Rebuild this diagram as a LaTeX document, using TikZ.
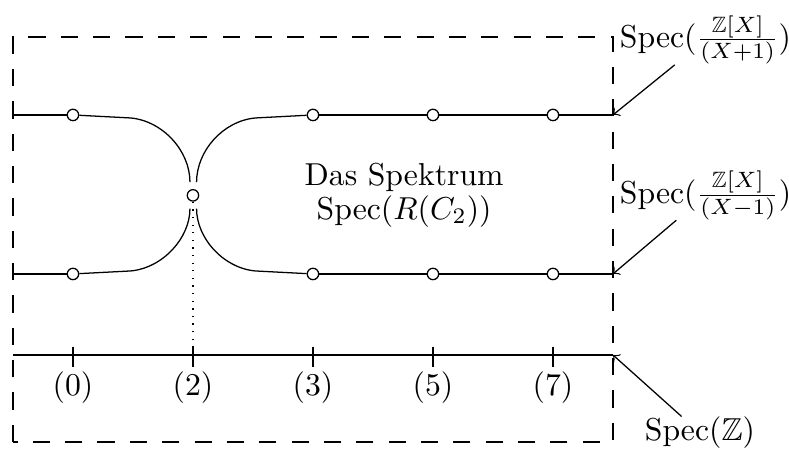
\documentclass[tikz,border=0pt]{standalone}
\usepackage{amsmath,amssymb}
\usetikzlibrary{positioning}
\tikzset{
	pkt/.style={circle,draw,fill=white,inner sep=0pt,minimum size=3.6pt},
	rahmen/.style={dash pattern=on 5.4pt off 4.8pt},
	etikett/.style={inner xsep=2pt,inner ysep=0pt}
}

\begin{document}
\begin{tikzpicture}[x=1.33cm,y=1.33cm]
			\useasboundingbox (-0.608,-0.817) rectangle (5.967,2.958);
			\draw[rahmen] (-0.5,-0.725) rectangle (4.5,2.65);
			\coordinate (uL) at (-0.5,2);
			\coordinate (uR) at (4.5,2);
			\coordinate (lL) at (-0.5,0.675);
			\coordinate (lR) at (4.5,0.675);
			\coordinate (aL) at (-0.5,0);
			\coordinate (aR) at (4.5,0);
			\foreach \x/\p in {0/0,2/3,3/5,4/7} {
				\node[pkt] (u\p) at (\x,2) {};
				\node[pkt] (l\p) at (\x,0.675) {};
			}
			\node[pkt] (m2) at (1,1.33) {};
			\draw (uL) -- (u0);
			\draw (lL) -- (l0);
			\draw (u0) -- (0.48,1.975) .. controls (0.75,1.95) and (0.975,1.7) .. (0.975,1.44);
			\draw (1.03,1.44) .. controls (1.03,1.7) and (1.25,1.95) .. (1.52,1.975) -- (u3);
			\draw (l0) -- (0.48,0.7) .. controls (0.75,0.725) and (0.975,0.975) .. (0.975,1.22);
			\draw (1.03,1.22) .. controls (1.03,0.975) and (1.25,0.725) .. (1.52,0.7) -- (l3);
			\draw (u3) -- (u5) -- (u7) -- (uR);
			\draw (l3) -- (l5) -- (l7) -- (lR);
			\draw (aL) -- (aR);
			\foreach \x/\p in {0/0,1/2,2/3,3/5,4/7} {
				\draw (\x,0.07) -- (\x,-0.1);
				\node[below] (t\p) at (\x,-0.05) {$(\p)$};
			}
			\coordinate (a2) at (1,0);
			\draw[dotted] (m2) -- (a2);
			\node[align=center] (spek) at (2.76,1.33) {Das Spektrum\\[-1.5pt]$\mathrm{Spec}(R(C_2))$};
			\node[etikett,anchor=west] (specP) at (4.5,2.625) {$\mathrm{Spec}(\frac{\mathbb{Z}[X]}{(X+1)})$};
			\node[etikett,anchor=west] (specM) at (4.5,1.33) {$\mathrm{Spec}(\frac{\mathbb{Z}[X]}{(X-1)})$};
			\node[inner sep=0pt] (specZ) at (5.225,-0.65) {$\mathrm{Spec}(\mathbb{Z})$};
			\draw[->] (specP) -- (uR);
			\draw[->] (specM) -- (lR);
			\draw[->] (specZ) -- (aR);
		\end{tikzpicture}
\end{document}
